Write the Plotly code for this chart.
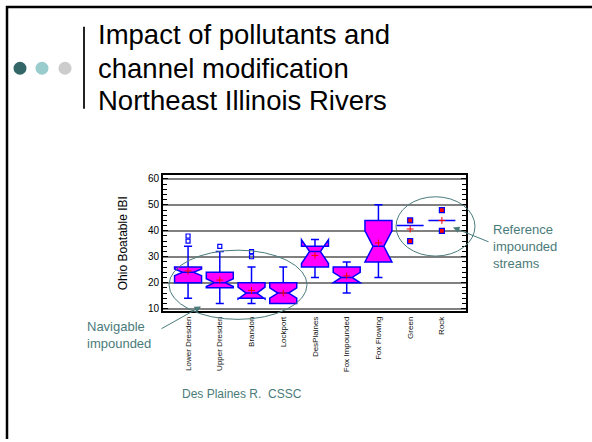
import plotly.graph_objects as go

W, H = 592, 442
def px(x): return x / W
def py(y): return 1 - y / H

categories = ["Lower Dresden", "Upper Dresden", "Brandon", "Lockport", "DesPlaines",
              "Fox Impounded", "Fox Flowing", "Green", "Rock"]
q1 = [20, 18, 14, 12, 26, 20, 28, 42, 44]
median = [24, 20, 16, 16, 32, 22, 34, 42, 44]
q3 = [26, 24, 20, 20, 34, 26, 44, 42, 44]
lowerfence = [14, 12, 12, 12, 22, 16, 22, 42, 44]
upperfence = [34, 32, 26, 26, 36, 28, 50, 42, 44]
notchspan = [1.3, 1.5, 2.3, 2.0, 4.6, 2.0, 6.0, 0, 0]
means = [24.5, 21, 17, 16, 30.5, 22.6, 35.3, 40.7, 44]

outlier_cat = [0, 0, 1, 2, 2]
outlier_val = [36, 38, 34, 30, 32]
point_cat = [7, 7, 8, 8]
point_val = [36, 44, 40, 48]

pos = list(range(len(categories)))
TEAL = "#4A7B7B"
FONT = "Liberation Sans, Arial, sans-serif"

fig = go.Figure()
fig.add_trace(go.Box(
    x=pos, q1=q1, median=median, q3=q3, lowerfence=lowerfence, upperfence=upperfence,
    notched=True, notchspan=notchspan, notchwidth=0.3, width=0.85, whiskerwidth=0.3,
    fillcolor="#FF00FF", line=dict(color="#0000FF", width=1.5), boxpoints=False,
    showlegend=False, hoverinfo="skip"))
fig.add_trace(go.Scatter(
    x=outlier_cat, y=outlier_val, mode="markers", showlegend=False,
    marker=dict(symbol="square-open", size=4, color="#0000FF", line=dict(width=1.2, color="#0000FF"))))
fig.add_trace(go.Scatter(
    x=point_cat, y=point_val, mode="markers", showlegend=False,
    marker=dict(symbol="square", size=5, color="#FF0000", line=dict(width=1.2, color="#0000FF"))))
fig.add_trace(go.Scatter(
    x=pos, y=means, mode="markers", showlegend=False,
    marker=dict(symbol="cross-thin", size=5, line=dict(width=1, color="#FF0000"))))

fig.update_layout(
    width=W, height=H, margin=dict(l=0, r=0, t=0, b=0),
    paper_bgcolor="white", plot_bgcolor="white",
    font=dict(family=FONT, color="black"),
    xaxis=dict(domain=[px(163), px(466)], range=[-0.79, 8.76],
               tickvals=pos, ticktext=categories, tickangle=-90,
               tickfont=dict(size=8, color="#111111"), showgrid=False, zeroline=False,
               showline=True, linecolor="black", linewidth=2, mirror=True, ticks=""),
    yaxis=dict(domain=[py(313), py(175)], range=[8.9, 61.5],
               tickvals=[10, 20, 30, 40, 50, 60], tickfont=dict(size=10, color="black"),
               showgrid=True, gridcolor="#808080", gridwidth=2, zeroline=False,
               showline=True, linecolor="black", linewidth=2, mirror="ticks",
               ticks="inside", ticklen=5, tickcolor="black", tickwidth=1,
               minor=dict(dtick=2, tick0=0, ticks="inside", ticklen=4, tickcolor="black", showgrid=False)),
)

shapes = []
# slide frame (only top and left edges are visible)
shapes.append(dict(type="line", xref="paper", yref="paper", x0=px(6), x1=1, y0=py(5), y1=py(5),
                   line=dict(color="black", width=2.5)))
shapes.append(dict(type="line", xref="paper", yref="paper", x0=px(7), x1=px(7), y0=py(4), y1=0,
                   line=dict(color="black", width=2.5)))
# dots
for cx, col in [(20, "#336666"), (42, "#99CCCC"), (65, "#CCCCCC")]:
    shapes.append(dict(type="circle", xref="paper", yref="paper", x0=px(cx - 6.5), x1=px(cx + 6.5),
                       y0=py(67 + 6.5), y1=py(67 - 6.5), fillcolor=col, line=dict(width=0)))
# vertical bar
shapes.append(dict(type="line", xref="paper", yref="paper", x0=px(84), x1=px(84), y0=py(25), y1=py(108),
                   line=dict(color="#222222", width=2)))
# ellipses
shapes.append(dict(type="circle", xref="paper", yref="paper", x0=px(169), x1=px(307), y0=py(321), y1=py(251),
                   line=dict(color=TEAL, width=1)))
shapes.append(dict(type="circle", xref="paper", yref="paper", x0=px(396), x1=px(475), y0=py(257), y1=py(197),
                   line=dict(color=TEAL, width=1)))
fig.update_layout(shapes=shapes)

ann = []
for txt, y in [("Impact of pollutants and", 33), ("channel modification", 67), ("Northeast Illinois Rivers", 100)]:
    ann.append(dict(text=txt, xref="paper", yref="paper", x=px(96), y=py(y), xanchor="left", yanchor="middle",
                    showarrow=False, font=dict(size=27.5, color="black", family=FONT)))
ann.append(dict(text="Ohio Boatable IBI", xref="paper", yref="paper", x=px(123), y=py(244), textangle=-90,
                xanchor="center", yanchor="middle", showarrow=False, font=dict(size=12, color="black")))
ann.append(dict(text="Des Plaines R.  CSSC", xref="paper", yref="paper", x=px(180), y=py(396),
                xanchor="left", yanchor="middle", showarrow=False, font=dict(size=12, color=TEAL)))
ann.append(dict(text="Navigable<br>impounded", xref="paper", yref="paper", x=px(85), y=py(337), align="left",
                xanchor="left", yanchor="middle", showarrow=False, font=dict(size=13, color=TEAL)))
ann.append(dict(text="Reference<br>impounded<br>streams", xref="paper", yref="paper", x=px(491), y=py(247),
                align="left", xanchor="left", yanchor="middle", showarrow=False, font=dict(size=13, color=TEAL)))
ann.append(dict(text="", xref="paper", yref="paper", x=px(201), y=py(308),
                ax=160 - 201, ay=331 - 308, showarrow=True, arrowhead=2, arrowsize=1.3, arrowwidth=1, arrowcolor=TEAL))
ann.append(dict(text="", xref="paper", yref="paper", x=px(453), y=py(228),
                ax=490 - 453, ay=243 - 228, showarrow=True, arrowhead=2, arrowsize=1.3, arrowwidth=1, arrowcolor=TEAL))
fig.update_layout(annotations=ann)

fig.write_html("out.html", config={"displayModeBar": False},
               post_script="document.body.style.margin='0';document.body.style.overflow='hidden';")
